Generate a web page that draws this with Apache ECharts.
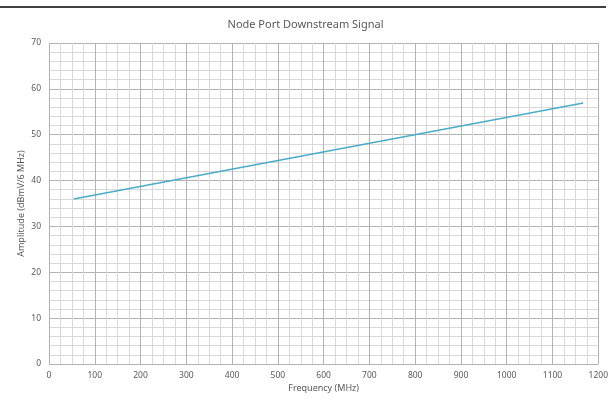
<!DOCTYPE html>
<html><head><meta charset="utf-8">
<script src="https://cdn.jsdelivr.net/npm/echarts@6/dist/echarts.min.js"></script>
<style>html,body{margin:0;padding:0;background:#fff}#c{width:611px;height:406px}</style>
</head><body><div id="c"></div>
<script>
const freqs = [54, 1167];
const amplitude = [36.0, 56.9];
const xTicks = [0,100,200,300,400,500,600,700,800,900,1000,1100,1200];
const yTicks = [0,10,20,30,40,50,60,70];

const chart = echarts.init(document.getElementById('c'));
const font = 'Noto Sans';
chart.setOption({
  animation: false,
  title: { text: 'Node Port Downstream Signal', left: 'center', top: 14,
    textStyle: { fontFamily: font, fontSize: 11, fontWeight: 'normal', color: '#595959' } },
  graphic: [{ type: 'line', shape: { x1: 0, y1: 7, x2: 606, y2: 7 }, style: { stroke: '#000', lineWidth: 1.5 } }],
  grid: { left: 49, right: 12, top: 43, bottom: 42 },
  xAxis: {
    type: 'value', min: 0, max: 1200, interval: 100,
    name: 'Frequency (MHz)', nameLocation: 'middle', nameGap: 20, nameMoveOverlap: false,
    nameTextStyle: { fontFamily: font, fontSize: 9, color: '#595959' },
    axisLine: { show: false }, axisTick: { show: false },
    axisLabel: { fontFamily: font, fontSize: 8.5, color: '#595959', margin: 7,
      formatter: v => xTicks.includes(v) ? String(v) : '' },
    splitLine: { show: true, lineStyle: { color: '#b3b3b3', width: 1 } },
    minorTick: { show: false, splitNumber: 4 },
    minorSplitLine: { show: true, lineStyle: { color: '#d9d9d9', width: 1 } }
  },
  yAxis: {
    type: 'value', min: 0, max: 70, interval: 10,
    name: 'Amplitude (dBmV/6 MHz)', nameLocation: 'middle', nameGap: 23, nameRotate: 90, nameMoveOverlap: false,
    nameTextStyle: { fontFamily: font, fontSize: 9, color: '#595959' },
    axisLine: { show: false }, axisTick: { show: false },
    axisLabel: { fontFamily: font, fontSize: 8.5, color: '#595959', margin: 8,
      formatter: v => yTicks.includes(v) ? String(v) : '' },
    splitLine: { show: true, lineStyle: { color: '#b3b3b3', width: 1 } },
    minorTick: { show: false, splitNumber: 5 },
    minorSplitLine: { show: true, lineStyle: { color: '#d9d9d9', width: 1 } }
  },
  series: [{
    type: 'line', data: freqs.map((f, i) => [f, amplitude[i]]),
    showSymbol: false, lineStyle: { color: '#4bacc6', width: 1.5 }
  }]
});
</script></body></html>
